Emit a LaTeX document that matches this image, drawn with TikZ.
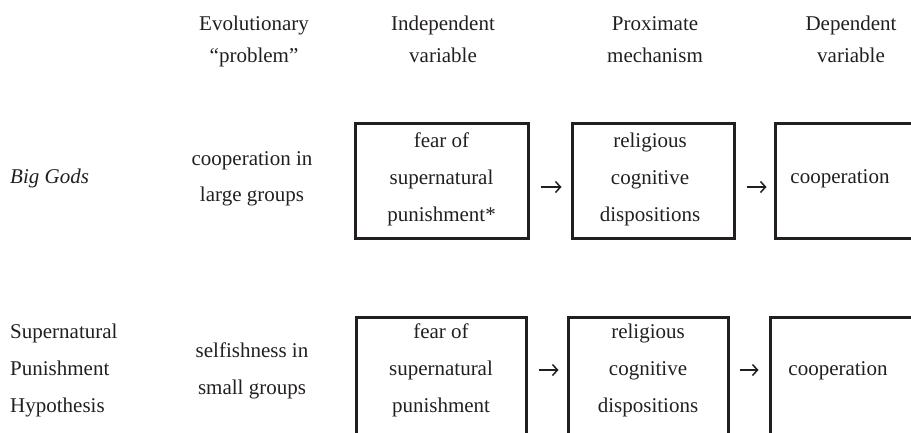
\documentclass[tikz,border=0pt]{standalone}
\usepackage{fontspec}
\setmainfont{Liberation Serif}
\usetikzlibrary{arrows.meta}
\definecolor{ink}{HTML}{231F20}
\tikzset{
  txt/.style={anchor=base, inner sep=0pt, text=ink, font=\fontsize{21}{25}\selectfont},
  frame/.style={draw=ink, line width=3pt, inner sep=0pt},
  arr/.style={draw=ink, line width=1.5pt, -{Straight Barb[length=5pt,width=11pt,line width=1.5pt]}},
}
\begin{document}
\begin{tikzpicture}[x=1pt,y=-1pt]
\clip (0,0) rectangle (911,432);
% header
\node[txt] (h1a) at (254,30) {Evolutionary};
\node[txt] (h1b) at (254,62) {``problem''};
\node[txt] (h2a) at (443,30) {Independent};
\node[txt] (h2b) at (443,62) {variable};
\node[txt] (h3a) at (655,30) {Proximate};
\node[txt] (h3b) at (655,62) {mechanism};
\node[txt] (h4a) at (851,30) {Dependent};
\node[txt] (h4b) at (851,62) {variable};
% row 1
\node[txt, anchor=base west] (bg) at (10,183) {\itshape Big Gods};
\node[txt] (p1a) at (252,165) {cooperation in};
\node[txt] (p1b) at (252,201) {large groups};
\node[frame, minimum width=173pt, minimum height=115pt] (b11) at (441.5,180.5) {};
\node[frame, minimum width=162pt, minimum height=115pt] (b12) at (653,180.5) {};
\node[frame, minimum width=162pt, minimum height=115pt] (b13) at (856,180.5) {};
\node[txt] (t11a) at (441.5,147) {fear of};
\node[txt] (t11b) at (441.5,184) {supernatural};
\node[txt] (t11c) at (441.5,221) {punishment*};
\node[txt] (t12a) at (650,147) {religious};
\node[txt] (t12b) at (650,184) {cognitive};
\node[txt] (t12c) at (650,221) {dispositions};
\node[txt] (t13) at (840,183) {cooperation};
\draw[arr, shorten <=11pt, shorten >=9pt] ([yshift=-6.5pt]b11.east) -- ([yshift=-6.5pt]b12.west);
\draw[arr, shorten <=11pt, shorten >=7pt] ([yshift=-6.5pt]b12.east) -- ([yshift=-6.5pt]b13.west);
% row 2
\node[txt, anchor=base west] (sp1) at (10,338) {Supernatural};
\node[txt, anchor=base west] (sp2) at (10,375) {Punishment};
\node[txt, anchor=base west] (sp3) at (10,412) {Hypothesis};
\node[txt] (p2a) at (252,357) {selfishness in};
\node[txt] (p2b) at (252,394) {small groups};
\node[frame, minimum width=170pt, minimum height=130pt] (b21) at (441,382) {};
\node[frame, minimum width=160pt, minimum height=130pt] (b22) at (648,382) {};
\node[frame, minimum width=162pt, minimum height=130pt] (b23) at (851,382) {};
\node[txt] (t21a) at (441,338) {fear of};
\node[txt] (t21b) at (441,375) {supernatural};
\node[txt] (t21c) at (441,412) {punishment};
\node[txt] (t22a) at (648,338) {religious};
\node[txt] (t22b) at (648,375) {cognitive};
\node[txt] (t22c) at (648,412) {dispositions};
\node[txt] (t23) at (838,375) {cooperation};
\draw[arr, shorten <=11pt, shorten >=8pt] ([yshift=12pt]b21.east) -- ([yshift=12pt]b22.west);
\draw[arr, shorten <=10pt, shorten >=10pt] ([yshift=12pt]b22.east) -- ([yshift=12pt]b23.west);
\end{tikzpicture}
\end{document}
